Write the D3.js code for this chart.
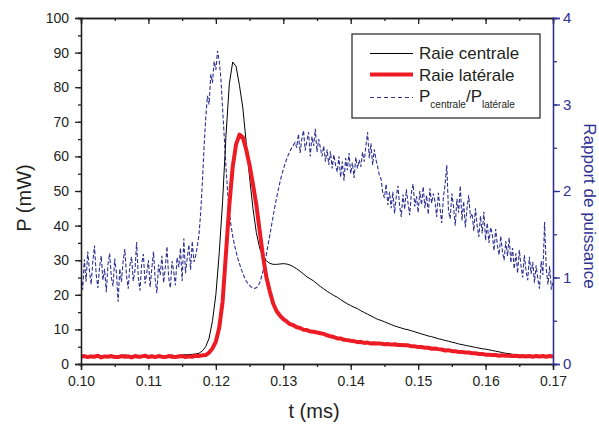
<!DOCTYPE html>
<html><head><meta charset="utf-8">
<script src="https://cdn.jsdelivr.net/npm/d3@7"></script>
<style>
body{margin:0;background:#fff}
text{font-family:Arial,"Liberation Sans",Helvetica,sans-serif}
</style>
</head><body>
<svg id="chart" width="599" height="425"></svg>
<script>
// ---------- data ----------
const tStart = 0.100;
const stepPower = 0.0005;   // sampling step of the two power traces (ms)
const stepRatio = 0.00025;  // sampling step of the ratio trace (ms)

const xTickValues = [0.10, 0.11, 0.12, 0.13, 0.14, 0.15, 0.16, 0.17];
const pTickValues = [0, 10, 20, 30, 40, 50, 60, 70, 80, 90, 100];
const rTickValues = [0, 1, 2, 3, 4];

// Raie centrale (mW)
const centrale = [
2.4,2.5,2.3,2.5,2.4,2.6,2.4,2.3,2.5,2.4,2.5,2.3,2.4,2.6,2.5,2.4,2.3,2.5,2.4,2.5,
2.4,2.6,2.4,2.5,2.3,2.4,2.5,2.6,2.4,2.5,2.6,2.7,2.7,2.8,2.9,
3.1,3.8,5.0,7.5,12.5,20,32,47,66,81,87.3,86,80.5,74,64,54,45,38,33.5,31,29.8,29.1,28.8,28.8,28.9,29.0,
28.9,28.6,28.1,27.5,26.8,26.0,25.2,24.6,24.0,23.2,22.4,21.7,21.0,20.4,19.8,19.3,18.6,18.0,17.4,16.9,
16.4,16.0,15.4,14.9,14.4,13.9,13.4,12.9,12.6,12.2,
11.8,11.4,11.0,10.7,10.4,10.1,9.9,9.6,9.3,9.0,
8.7,8.4,8.1,7.9,7.6,7.3,7.1,6.8,6.6,6.3,
6.1,5.8,5.6,5.4,5.2,5.0,4.8,4.6,4.4,4.3,
4.1,3.9,3.7,3.5,3.3,3.1,3.0,2.8,2.7,2.6,
2.5,2.5,2.45,2.45,2.4,2.4,2.4,2.4,2.4,2.4
];

// Raie latérale (mW)
const laterale = [
2.1,2.3,2.0,2.2,2.1,2.4,1.9,2.2,2.1,2.3,2.0,2.0,2.3,2.1,2.2,1.9,2.3,2.1,2.2,2.4,
2.0,2.2,2.0,2.3,2.1,2.0,2.3,2.1,2.0,2.2,2.3,2.0,2.2,2.1,2.4,2.3,2.5,2.6,
3.3,4.5,6.5,10.5,18,32,46,57,63.5,66.3,65.5,62,57.5,52,46,38.5,31,25,21,17.5,15.3,14.0,13.0,
12.3,11.5,11.2,10.6,10.4,9.9,9.8,9.4,9.3,9.1,
8.9,8.7,8.3,8.0,7.8,7.4,7.4,7.0,6.9,6.7,
6.6,6.3,6.4,6.1,6.2,5.9,6.0,5.9,5.9,5.7,
5.8,5.6,5.7,5.5,5.5,5.4,5.4,5.1,5.1,4.9,
4.9,4.7,4.7,4.4,4.5,4.3,4.2,3.9,4.0,3.7,
3.7,3.5,3.5,3.3,3.3,3.1,3.1,2.9,2.9,2.7,
2.7,2.6,2.6,2.4,2.5,2.4,2.4,2.3,2.4,2.2,
2.3,2.2,2.3,2.1,2.3,2.2,2.3,2.1,2.3,2.2
];

// P_centrale / P_latérale (right axis)
const ratio = [
1.02,0.86,1.21,0.95,1.30,1.08,0.92,1.18,
1.37,1.04,0.88,1.12,1.25,0.97,1.10,0.83,
1.15,1.28,1.00,0.90,1.22,1.06,0.72,1.10,
0.95,1.19,1.33,1.02,0.87,1.14,1.24,0.96,
1.08,1.41,1.00,0.85,1.16,1.27,0.93,1.05,
1.20,0.89,1.10,1.30,0.98,0.82,1.15,1.03,
1.25,0.94,1.11,1.36,1.00,0.88,1.19,1.07,
0.91,1.23,1.12,1.34,0.96,1.45,1.05,1.22,
1.38,1.09,1.42,1.18,
1.25,1.36,1.5,1.75,2.1,2.5,2.85,3.1,3.0,3.35,3.25,3.5,3.4,3.62,3.5,3.3,2.95,2.62,2.28,1.98,
1.75,1.6,1.48,1.38,1.3,1.22,1.16,1.1,1.05,1.0,0.96,0.93,0.91,0.89,0.88,0.875,0.88,0.9,0.94,1.0,
1.08,1.17,1.27,1.38,1.49,1.6,1.71,1.82,1.92,2.01,2.1,2.18,2.25,2.31,2.37,2.42,2.46,2.5,2.53,2.56,
2.50,2.66,2.44,2.60,2.70,2.47,2.58,2.68,2.40,2.63,2.52,2.72,2.45,2.60,2.50,2.40,
2.52,2.34,2.48,2.30,2.46,2.26,2.42,2.30,
2.22,2.40,2.16,2.34,2.12,2.38,2.24,2.44,2.20,2.33,2.15,2.39,2.26,2.36,
2.28,2.45,2.34,2.52,2.68,2.38,2.55,2.30,2.48,2.36,2.28,2.18,
2.14,1.98,1.92,2.08,1.84,1.99,
1.80,1.99,1.74,1.93,2.06,1.83,1.70,1.96,1.79,2.02,1.86,1.72,1.98,2.08,1.82,1.94,1.75,2.00,1.84,2.05,1.80,1.95,1.73,2.03,1.86,1.97,
1.88,1.70,1.98,1.80,1.63,1.93,2.08,2.30,1.77,1.68,1.97,1.82,1.60,1.91,1.75,2.06,1.66,1.88,1.58,1.80,1.95,1.70,
1.74,1.54,1.80,1.60,1.47,1.71,1.51,1.76,1.43,1.63,1.40,1.58,
1.50,1.31,1.56,1.37,1.26,1.48,1.30,1.20,1.42,1.25,1.46,1.17,
1.34,1.10,1.28,1.05,1.32,1.14,1.00,1.26,1.08,0.97,1.24,1.04,
1.18,0.94,1.14,0.98,0.87,1.19,1.03,1.64,1.10,0.92,1.13,0.86,0.96
];

const legendLabels = ["Raie centrale", "Raie latérale"];
const xTitle = "t (ms)", yTitle = "P (mW)", y2Title = "Rapport de puissance";

// ---------- drawing ----------
const C = {axis:"#231f20", black:"#000", red:"#ed1c24", blue:"#2e3192"};
const svg = d3.select("#chart");
const L = 81, R = 553, T = 18, B = 364;

const x = d3.scaleLinear().domain([0.10, 0.17]).range([L, R]);
const y = d3.scaleLinear().domain([0, 100]).range([B, T]);
const yR = d3.scaleLinear().domain([0, 4]).range([B, T]);

svg.append("defs").append("clipPath").attr("id","clip")
  .append("rect").attr("x",L).attr("y",T).attr("width",R-L).attr("height",B-T);

const plot = svg.append("g").attr("clip-path","url(#clip)");

const ptsP = arr => arr.map((v,i)=>[tStart + i*stepPower, v]);
const ptsR = arr => arr.map((v,i)=>[tStart + i*stepRatio, v]);

plot.append("path").datum(ptsR(ratio))
  .attr("d", d3.line().x(d=>x(d[0])).y(d=>yR(d[1])))
  .attr("fill","none").attr("stroke",C.blue).attr("stroke-width",1.1)
  .attr("stroke-dasharray","4,2");

plot.append("path").datum(ptsP(centrale))
  .attr("d", d3.line().x(d=>x(d[0])).y(d=>y(d[1])))
  .attr("fill","none").attr("stroke",C.black).attr("stroke-width",1);

plot.append("path").datum(ptsP(laterale))
  .attr("d", d3.line().x(d=>x(d[0])).y(d=>y(d[1])))
  .attr("fill","none").attr("stroke",C.red).attr("stroke-width",4)
  .attr("stroke-linejoin","round");

// axes helpers
function style(g, color){
  g.selectAll("path,line").attr("stroke",color).attr("stroke-width",1.3);
  g.selectAll("text").attr("fill",color).attr("font-size",14)
   .attr("font-family","Arial, 'Liberation Sans', sans-serif");
}
const xMinor = d3.range(0, 15).map(i => 0.10 + i*0.005);
const pMinor = d3.range(0, 21).map(i => i*5);
const rMinor = d3.range(0, 9).map(i => i*0.5);

// bottom
let g = svg.append("g").attr("transform",`translate(0,${B})`)
  .call(d3.axisBottom(x).tickValues(xMinor).tickSize(3).tickFormat(""));
style(g, C.axis);
g = svg.append("g").attr("transform",`translate(0,${B})`)
  .call(d3.axisBottom(x).tickValues(xTickValues).tickSize(6).tickPadding(6).tickFormat(d3.format(".2f")));
style(g, C.axis);
// top (inward)
g = svg.append("g").attr("transform",`translate(0,${T})`)
  .call(d3.axisTop(x).tickValues(xMinor).tickSize(-3).tickFormat(""));
style(g, C.axis);
g = svg.append("g").attr("transform",`translate(0,${T})`)
  .call(d3.axisTop(x).tickValues(xTickValues).tickSize(-6).tickFormat(""));
style(g, C.axis);
// left
g = svg.append("g").attr("transform",`translate(${L},0)`)
  .call(d3.axisLeft(y).tickValues(pMinor).tickSize(3).tickFormat(""));
style(g, C.axis);
g = svg.append("g").attr("transform",`translate(${L},0)`)
  .call(d3.axisLeft(y).tickValues(pTickValues).tickSize(6).tickPadding(6).tickFormat(d3.format("d")));
style(g, C.axis);
// right (blue)
g = svg.append("g").attr("transform",`translate(${R},0)`)
  .call(d3.axisRight(yR).tickValues(rMinor).tickSize(4).tickFormat(""));
style(g, C.blue);
g = svg.append("g").attr("transform",`translate(${R},0)`)
  .call(d3.axisRight(yR).tickValues(rTickValues).tickSize(7).tickPadding(3).tickFormat(d3.format("d")));
style(g, C.blue);
g.selectAll("text").attr("font-size",15);

// titles
svg.append("text").attr("x",314).attr("y",418).attr("text-anchor","middle")
  .attr("font-size",20).attr("fill",C.axis).text(xTitle);
svg.append("text").attr("transform","translate(31,198) rotate(-90)").attr("text-anchor","middle")
  .attr("font-size",20).attr("fill",C.axis).text(yTitle);
svg.append("text").attr("transform","translate(584,206) rotate(90)").attr("text-anchor","middle")
  .attr("font-size",17).attr("fill",C.blue).text(y2Title);

// legend
const lg = svg.append("g");
lg.append("rect").attr("x",352).attr("y",34).attr("width",188).attr("height",84)
  .attr("fill","#fff").attr("stroke",C.axis).attr("stroke-width",1.2);
const rows = [
  {y:53.5, color:C.black, w:1, dash:null},
  {y:74.5, color:C.red, w:4, dash:null},
  {y:97.5, color:C.blue, w:1.1, dash:"4,3"}
];
rows.forEach((r,i)=>{
  lg.append("line").attr("x1",370).attr("x2",413).attr("y1",r.y).attr("y2",r.y)
    .attr("stroke",r.color).attr("stroke-width",r.w).attr("stroke-dasharray",r.dash);
});
lg.append("text").attr("x",419).attr("y",59).attr("font-size",17).attr("fill",C.axis).text(legendLabels[0]);
lg.append("text").attr("x",419).attr("y",80.5).attr("font-size",17).attr("fill",C.axis).text(legendLabels[1]);
const t3 = lg.append("text").attr("x",419).attr("y",102).attr("font-size",17).attr("fill",C.axis);
t3.append("tspan").text("P");
t3.append("tspan").attr("dy",6).attr("font-size",10).text("centrale");
t3.append("tspan").attr("dy",-6).text("/P");
t3.append("tspan").attr("dy",6).attr("font-size",10).text("latérale");
</script>
</body></html>
